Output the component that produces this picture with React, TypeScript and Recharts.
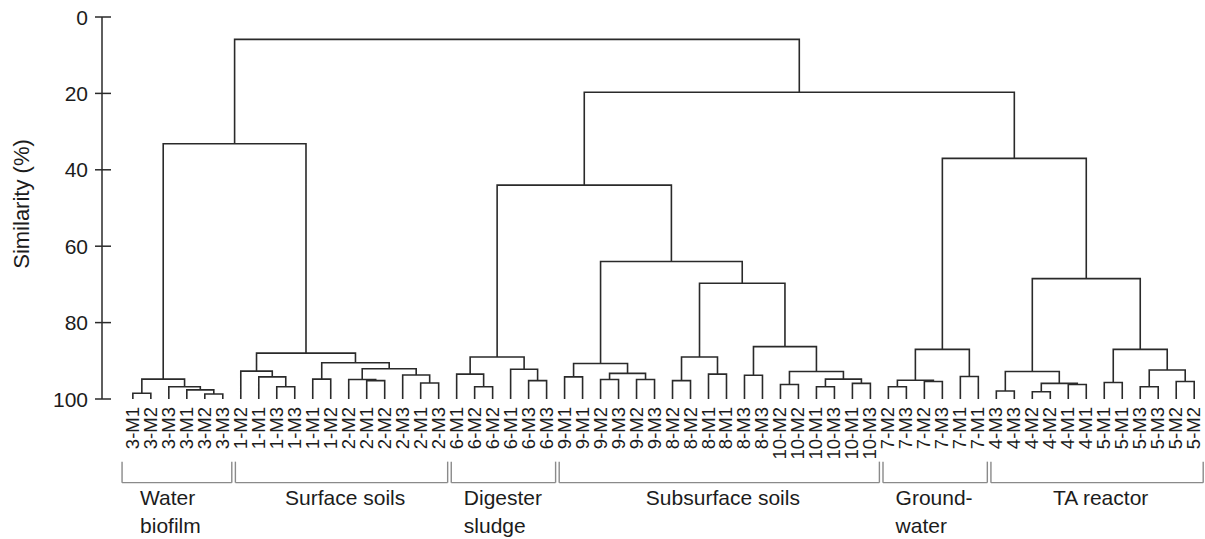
import { ComposedChart, Line, XAxis, YAxis, ReferenceLine, ReferenceDot } from 'recharts'

type Tree = number | [Tree, Tree, number]

// leaf labels, left to right
const waterLeaves = ['3-M1', '3-M2', '3-M3', '3-M1', '3-M2', '3-M3']
const surfaceLeaves = ['1-M2', '1-M1', '1-M3', '1-M3', '1-M1', '1-M2', '2-M2', '2-M1', '2-M2', '2-M3', '2-M1', '2-M3']
const sludgeLeaves = ['6-M1', '6-M2', '6-M2', '6-M1', '6-M3', '6-M3']
const subsurfaceLeaves = [
  '9-M1', '9-M1', '9-M2', '9-M3', '9-M2', '9-M3',
  '8-M2', '8-M2', '8-M1', '8-M1', '8-M3', '8-M3',
  '10-M2', '10-M2', '10-M1', '10-M3', '10-M1', '10-M3',
]
const groundwaterLeaves = ['7-M2', '7-M3', '7-M2', '7-M3', '7-M1', '7-M1']
const reactorLeaves = ['4-M3', '4-M3', '4-M2', '4-M2', '4-M1', '4-M1', '5-M1', '5-M1', '5-M3', '5-M3', '5-M2', '5-M2']

const leafLabels = [
  ...waterLeaves, ...surfaceLeaves, ...sludgeLeaves,
  ...subsurfaceLeaves, ...groundwaterLeaves, ...reactorLeaves,
]

// merges: [left, right, similarity %], numbers are leaf positions
const waterTree: Tree = [[0, 1, 98.5], [2, [3, [4, 5, 98.7], 97.6], 96.8], 94.8]
const surfaceTree: Tree = [
  [6, [7, [8, 9, 96.8], 94.2], 92.7],
  [[10, 11, 94.8], [[12, [13, 14, 95.2], 94.9], [15, [16, 17, 95.8], 93.7], 92.1], 90.5],
  88.0,
]
const sludgeTree: Tree = [[18, [19, 20, 96.8], 93.5], [21, [22, 23, 95.2], 92.2], 89.0]
const subsurfaceTree: Tree = [
  [[24, 25, 94.2], [[26, 27, 94.9], [28, 29, 94.9], 93.3], 90.7],
  [
    [[30, 31, 95.2], [32, 33, 93.5], 89.0],
    [[34, 35, 93.8], [[36, 37, 96.2], [[38, 39, 96.8], [40, 41, 95.9], 94.8], 92.8], 86.3],
    69.7,
  ],
  64.0,
]
const groundwaterTree: Tree = [[[42, 43, 96.8], [44, 45, 95.4], 95.1], [46, 47, 94.1], 87.0]
const reactorTree: Tree = [
  [[48, 49, 97.9], [[50, 51, 98.1], [52, 53, 96.2], 95.9], 92.8],
  [[54, 55, 95.7], [[56, 57, 96.8], [58, 59, 95.4], 92.4], 87.0],
  68.5,
]
const fullTree: Tree = [
  [waterTree, surfaceTree, 33.2],
  [[sludgeTree, subsurfaceTree, 44.0], [groundwaterTree, reactorTree, 37.0], 19.7],
  5.85,
]

const groups = [
  { name: ['Water', 'biofilm'], first: 0, last: 5 },
  { name: ['Surface soils'], first: 6, last: 17 },
  { name: ['Digester', 'sludge'], first: 18, last: 23 },
  { name: ['Subsurface soils'], first: 24, last: 41 },
  { name: ['Ground-', 'water'], first: 42, last: 47 },
  { name: ['TA reactor'], first: 48, last: 59 },
]

const yTicks = [0, 20, 40, 60, 80, 100]
const leafTicks = leafLabels.map((_, i) => i)

type Pt = { x: number; y: number | null }

function layout(t: Tree, out: Pt[]): { x: number; h: number } {
  if (typeof t === 'number') return { x: t, h: 100 }
  const l = layout(t[0], out)
  const r = layout(t[1], out)
  const h = t[2]
  out.push(
    { x: l.x, y: l.h },
    { x: l.x, y: h },
    { x: r.x, y: h },
    { x: r.x, y: r.h },
    { x: r.x, y: null },
  )
  return { x: (l.x + r.x) / 2, h }
}

const linkPoints: Pt[] = []
layout(fullTree, linkPoints)

const FONT = "'Liberation Sans', Arial, sans-serif"
const INK = '#1c1c1c'
const LINE = '#2a2a2a'
const BRACKET = '#8a8a8a'

const LeafTick = (p: any) => {
  const { x, y, payload } = p
  const bx = x + 6
  return (
    <text
      x={bx}
      y={y}
      transform={`rotate(-90, ${bx}, ${y})`}
      textAnchor="end"
      fontSize={18.5}
      fontFamily={FONT}
      fill={INK}
    >
      {leafLabels[payload.value]}
    </text>
  )
}

const YTick = (p: any) => {
  const { x, y, payload } = p
  return (
    <g>
      <line x1={x - 7} x2={x + 9} y1={y} y2={y} stroke={LINE} strokeWidth={1.5} />
      <text x={x - 14} y={y} dy="0.36em" textAnchor="end" fontSize={21} fontFamily={FONT} fill={INK}>
        {payload.value}
      </text>
    </g>
  )
}

const AxisTitle = (p: any) => {
  const vb = p?.viewBox ?? { x: 0, y: 17, width: 102, height: 382 }
  const tx = vb.x + 29
  const ty = vb.y + vb.height / 2 - 4
  return (
    <text x={tx} y={ty} transform={`rotate(-90, ${tx}, ${ty})`} textAnchor="middle" fontSize={22} fontFamily={FONT} fill={INK}>
      Similarity (%)
    </text>
  )
}

const GroupLabel = (lines: string[], anchor: 'start' | 'middle') => (p: any) => (
  <text x={p.cx} y={p.cy} textAnchor={anchor} fontSize={21} fontFamily={FONT} fill={INK}>
    {lines.map((s, i) => (
      <tspan key={i} x={p.cx} dy={i === 0 ? 0 : 28}>
        {s}
      </tspan>
    ))}
  </text>
)

const BR_TOP = 116.4
const BR_BOTTOM = 121.9
const LABEL_Y = 127.7

export default function App() {
  return (
    <div style={{ position: 'absolute', left: 0, top: 0, background: '#fff' }}>
      <ComposedChart width={1205} height={539} margin={{ top: 17, right: 0, bottom: 0, left: 0 }}>
        <XAxis
          type="number"
          dataKey="x"
          domain={[-1.715, 59.6]}
          allowDataOverflow
          ticks={leafTicks}
          interval={0}
          height={140}
          axisLine={false}
          tickLine={false}
          tickSize={0}
          tickMargin={8}
          tick={(p: any) => <LeafTick {...p} />}
        />
        <YAxis
          type="number"
          domain={[0, 100]}
          reversed
          ticks={yTicks}
          interval={0}
          width={102}
          axisLine={{ stroke: LINE, strokeWidth: 1.5 }}
          tickLine={false}
          tickSize={0}
          tickMargin={0}
          tick={(p: any) => <YTick {...p} />}
          label={(p: any) => <AxisTitle {...p} />}
        />
        <Line
          data={linkPoints}
          dataKey="y"
          type="linear"
          stroke={LINE}
          strokeWidth={1.6}
          dot={false}
          activeDot={false}
          connectNulls={false}
          isAnimationActive={false}
        />
        {groups.map((g) => {
          const a = g.first === 0 ? g.first - 0.6 : g.first - 0.3
          const b = g.last + 0.5
          return [
            <ReferenceLine key={g.first + 'l'} ifOverflow="visible" stroke={BRACKET} strokeWidth={1.4}
              segment={[{ x: a, y: BR_TOP }, { x: a, y: BR_BOTTOM }]} />,
            <ReferenceLine key={g.first + 'b'} ifOverflow="visible" stroke={BRACKET} strokeWidth={1.4}
              segment={[{ x: a, y: BR_BOTTOM }, { x: b, y: BR_BOTTOM }]} />,
            <ReferenceLine key={g.first + 'r'} ifOverflow="visible" stroke={BRACKET} strokeWidth={1.4}
              segment={[{ x: b, y: BR_BOTTOM }, { x: b, y: BR_TOP }]} />,
          ]
        })}
        {groups.map((g) => {
          const twoLines = g.name.length > 1
          const x = twoLines ? g.first + 0.4 : (g.first + g.last) / 2 + 0.3
          return (
            <ReferenceDot
              key={g.first + 'n'}
              x={x}
              y={LABEL_Y}
              r={0}
              ifOverflow="visible"
              shape={GroupLabel(g.name, twoLines ? 'start' : 'middle')}
            />
          )
        })}
      </ComposedChart>
    </div>
  )
}
